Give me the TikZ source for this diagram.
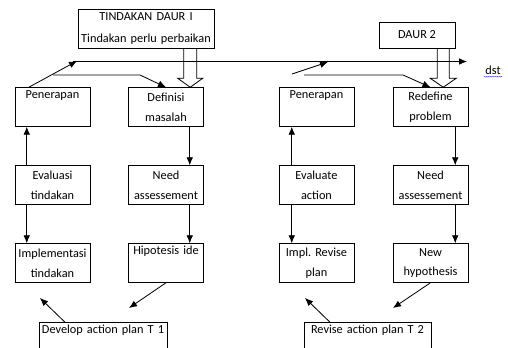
\documentclass[tikz,border=0pt]{standalone}
\usepackage{fontspec}
\setmainfont{Carlito}
\frenchspacing
\usetikzlibrary{shapes.geometric,arrows,arrows.meta,calc,decorations.pathmorphing}
\tikzstyle{process} = [rectangle, minimum width = 2.25cm, minimum height=1.17cm, align=center, text width = 2.18cm, inner sep=1pt, draw = black, fill=white]
\tikzstyle{plan} = [rectangle, minimum height=1.2cm, align=center, inner sep=1pt, draw = black, anchor=north]
\tikzstyle{daur} = [rectangle, align=center, inner sep=1pt, draw = black]
\tikzstyle{arrow} = [line width=0.7pt,->,>={Latex[length=2.4mm,width=2mm]}]
\tikzstyle{hollow} = [line width=0.7pt]

\begin{document}
\begin{tikzpicture}[node distance = 2.34cm, font=\fontsize{10.5}{17}\selectfont]
\clip (0,0) rectangle (15.24,-10.41);

% daur 1
\node(penerapan) [process] at (1.575,-3.21) {Penerapan\\\strut};
\node(evaluasi) [process, below of = penerapan] {Evaluasi\\tindakan};
\node(implementasi) [process, below of = evaluasi] {Implementasi\\tindakan};
\node(definisi) [process] at (4.98,-3.21) {Definisi\\masalah};
\node(needsatu) [process, below of = definisi] {Need\\assessement};
\node(hipotesis) [process, below of = needsatu] {Hipotesis ide\\\strut};
\node(develop) [plan, minimum width=3.84cm, text width=3.7cm] at (3.09,-9.66) {Develop action plan T 1\\\strut};
\node(tindakan) [daur, minimum width=4.08cm, minimum height=1.17cm, text width=4cm] at (4.38,-0.855) {TINDAKAN DAUR I\\[1.5pt]Tindakan perlu perbaikan};

% daur 2
\node(penerapandua) [process] at (9.495,-3.21) {Penerapan\\\strut};
\node(evaluate) [process, below of = penerapandua] {Evaluate\\action};
\node(implrevise) [process, below of = evaluate] {Impl. Revise\\plan};
\node(redefine) [process] at (12.915,-3.21) {Redefine\\problem};
\node(needdua) [process, below of = redefine] {Need\\assessement};
\node(newhyp) [process, below of = needdua] {New\\hypothesis};
\node(revise) [plan, minimum width=3.81cm, text width=3.7cm] at (11.025,-9.66) {Revise action plan T 2\\\strut};
\node(daurdua) [daur, minimum width=2.28cm, minimum height=0.78cm] at (12.51,-1.05) {DAUR 2};

\node(dst) at (14.79,-2.115) {dst};
\draw[blue!70, line width=0.4pt, decorate, decoration={snake, amplitude=0.25pt, segment length=1.6pt}] ([xshift=0.08cm,yshift=-0.06cm]dst.base west) -- ([xshift=-0.08cm,yshift=-0.06cm]dst.base east);

% big hollow arrows
\draw[hollow] let \p1 = ([xshift=-0.405cm]definisi.north east), \p2 = (tindakan.south) in (\x1-0.195cm,\y2) -- (\x1-0.195cm,\y1+0.27cm) -- (\x1-0.375cm,\y1+0.27cm) -- (\x1,\y1) -- (\x1+0.375cm,\y1+0.27cm) -- (\x1+0.195cm,\y1+0.27cm) -- (\x1+0.195cm,\y2);
\draw[hollow] let \p1 = ([xshift=-0.75cm]redefine.north east), \p2 = (daurdua.south) in (\x1-0.18cm,\y2) -- (\x1-0.18cm,\y1+0.27cm) -- (\x1-0.39cm,\y1+0.27cm) -- (\x1,\y1) -- (\x1+0.39cm,\y1+0.27cm) -- (\x1+0.18cm,\y1+0.27cm) -- (\x1+0.18cm,\y2);

% top lines
\coordinate (lintasawal) at (2.19,-1.845);
\coordinate (lintasakhir) at (14.01,-1.845);
\coordinate (naiksatu) at (2.31,-1.83);
\coordinate (belokawal) at (1.59,-2.25);
\coordinate (belok) at (4.2,-2.25);
\coordinate (naikawal) at (8.76,-2.22);
\coordinate (naikdua) at (9.84,-1.86);
\coordinate (belokduaawal) at (9.12,-2.25);
\coordinate (belokdua) at (12.09,-2.25);

\draw [arrow] (lintasawal) -- (lintasakhir);
\draw [arrow] ([xshift=0.42cm]penerapan.north west) -- (naiksatu);
\draw [arrow] (belokawal) -- (belok) -- (definisi.north);
\draw [arrow] (naikawal) -- (naikdua);
\draw [arrow] (belokduaawal) -- (belokdua) -- (redefine.north);

% columns
\draw [arrow] ([xshift=0.36cm]evaluasi.north west) -- ([xshift=0.36cm]penerapan.south west);
\draw [arrow] ([xshift=0.36cm]evaluasi.south west) -- ([xshift=0.36cm]implementasi.north west);
\draw [arrow] ([xshift=-0.42cm]definisi.south east) -- ([xshift=-0.42cm]needsatu.north east);
\draw [arrow] ([xshift=-0.42cm]needsatu.south east) -- ([xshift=-0.42cm]hipotesis.north east);
\draw [arrow] ([xshift=0.39cm]evaluate.north west) -- ([xshift=0.39cm]penerapandua.south west);
\draw [arrow] ([xshift=0.39cm]evaluate.south west) -- ([xshift=0.39cm]implrevise.north west);
\draw [arrow] ([xshift=-0.39cm]redefine.south east) -- ([xshift=-0.39cm]needdua.north east);
\draw [arrow] ([xshift=-0.39cm]needdua.south east) -- ([xshift=-0.39cm]newhyp.north east);

% bottom
\coordinate (kedevelop) at (3.87,-9.24);
\coordinate (keimpl) at (1.2,-8.94);
\coordinate (kerevise) at (11.79,-9.24);
\coordinate (keimpldua) at (9.15,-8.94);
\draw [arrow] (hipotesis.south) -- (kedevelop);
\draw [arrow] ([xshift=0.78cm]develop.north west) -- (keimpl);
\draw [arrow] (newhyp.south) -- (kerevise);
\draw [arrow] ([xshift=0.78cm]revise.north west) -- (keimpldua);

\end{tikzpicture}
\end{document}
